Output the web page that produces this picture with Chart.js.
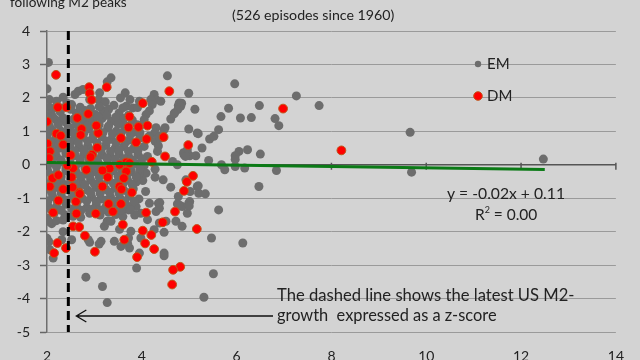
<!DOCTYPE html>
<html>
<head>
<meta charset="utf-8">
<script src="https://cdn.jsdelivr.net/npm/chart.js@4"></script>
<style>
  html, body { margin: 0; padding: 0; background: #d3d3d3; }
  #wrap { width: 640px; height: 360px; }
</style>
</head>
<body>
<div id="wrap"><canvas id="chart" width="640" height="360"></canvas></div>
<script>
/* ── Data (z-scores) ────────────────────────────────────── */
const xTicks = [2, 4, 6, 8, 10, 12, 14];
const yTicks = [-5, -4, -3, -2, -1, 0, 1, 2, 3, 4];

// EM episodes: [M2 z-score at peak, subsequent outcome]
const emPoints = [
  [2.03,3.06],[2.00,2.27],[3.27,2.48],[3.35,2.60],[4.54,2.66],[4.99,2.14],[5.96,2.42],[7.26,2.06],
  [6.48,1.77],[7.74,1.77],[6.08,1.40],[6.31,1.41],[6.81,1.38],[6.89,1.17],[9.66,0.97],[6.23,0.45],
  [6.05,0.40],[6.50,0.32],[12.47,0.17],[6.17,-0.10],[6.84,-0.17],[9.69,-0.22],[6.47,-0.65],[6.13,-2.34],
  [5.83,1.69],[5.67,1.44],[5.62,1.05],[5.43,0.77],[5.52,0.85],[5.97,0.27],[5.41,0.13],[5.68,0.00],
  [5.75,-0.15],[5.62,-1.35],[5.47,-2.19],[5.51,-3.26],[5.31,-3.96],[5.97,-0.05],[5.97,0.16],
  [4.84,1.84],[4.77,1.77],[4.69,1.55],[4.61,1.37],[4.47,1.05],[4.40,0.80],[4.28,0.70],[4.99,1.07],
  [5.17,0.95],[5.27,0.50],[4.89,0.30],[5.01,0.27],[5.14,0.27],[4.96,0.45],[4.65,0.10],[4.75,0.00],
  [4.28,-0.13],[4.45,-0.45],[4.61,-0.67],[5.17,-0.65],[5.20,-0.85],[5.34,-0.87],[5.02,-0.80],[4.93,-0.45],
  [4.77,-0.95],[4.99,-1.15],[4.85,-1.25],[4.75,-1.17],[4.96,-1.45],[4.51,-1.69],[4.72,-1.69],[4.85,-1.84],
  [4.47,-2.02],[4.37,-1.74],[4.35,-1.15],[4.30,-1.40],[4.16,-1.15],[3.98,-1.45],[3.98,-2.19],[3.95,-2.64],
  [3.89,-3.09],[3.74,-2.49],[3.56,-2.44],[3.42,-2.29],[3.70,-2.35],[4.47,-2.64],[2.82,-3.36],[3.17,-3.64],
  [3.27,-4.12],[2.90,-2.32],[3.10,-2.37],[2.13,-2.79],[2.06,-2.54],[2.04,-2.30],[2.00,-2.20],[2.10,-1.76],
  [2.20,-1.67],[2.00,-1.60],[2.34,-1.65],[2.34,-2.00],[2.09,-1.35],
  [4.26,2.10],[4.30,1.95],[4.19,1.95],[4.22,1.80],[4.40,1.90],[4.79,1.85],[4.82,1.75],[4.76,1.65],
  [5.12,1.66],[4.68,1.52],[4.16,1.61],[4.09,1.50],[4.05,1.35],[4.49,1.11],[4.30,1.11],[4.27,0.95],
  [4.37,0.85],[5.19,0.93],[4.88,0.36],[4.97,0.32],[4.92,0.25],[4.35,0.56],[4.33,0.40],
  [5.19,-0.63],[4.28,-0.37],[4.09,-0.25],[4.02,-0.47],[5.01,-1.10],[5.00,-1.23],[4.79,-1.20],[4.38,-1.13],
  [4.37,-1.30],[4.12,-1.64],[4.26,-1.94],[4.47,-2.72],
  [2.03,-1.69],[2.03,-1.25],[2.31,-2.24],[2.52,-2.24],[2.87,-2.24],[3.14,-2.29],[3.72,-2.19],[2.55,-1.54],
  [2.71,-1.57],[3.21,-1.84],[3.27,-1.69],[3.35,-1.69],[3.45,-1.49],[3.61,-1.35],[3.72,-1.35],[3.78,-1.25],
  [3.77,-1.99],[3.53,-1.93],
  [2.66,2.20],[2.76,2.25],[2.59,2.10],[2.52,1.80],[2.34,2.02],[2.17,1.70],[2.05,1.72],[3.11,2.15],
  [3.09,1.95],[3.23,1.88],[3.41,1.78],[3.65,2.15],[3.67,1.75],[3.81,1.70],[3.91,1.71],
  [2.05,1.95],[2.20,1.90],[2.42,1.85],[2.90,1.95],[3.55,2.00],[3.75,1.95],[3.95,1.90],
  [2.08,1.52],[2.28,1.58],[2.62,1.55],[2.80,1.62],[3.02,1.50],[3.18,1.62],[3.52,1.55],[3.72,1.48],
  [2.00,1.30],[2.18,1.35],[2.40,1.28],[2.56,1.36],[2.78,1.30],[2.98,1.25],[3.16,1.38],[3.36,1.30],
  [3.55,1.26],[3.80,1.33],[4.00,1.20],
  [2.10,1.05],[2.30,1.00],[2.48,1.10],[2.66,1.02],[2.88,1.08],[3.08,1.02],[3.28,1.10],[3.46,1.00],
  [3.64,1.06],[3.84,0.98],
  [2.00,0.82],[2.18,0.78],[2.38,0.85],[2.58,0.75],[2.76,0.82],[2.96,0.78],[3.16,0.84],[3.36,0.76],
  [3.56,0.82],[3.74,0.74],[3.96,0.80],[4.15,0.85],
  [2.10,0.55],[2.28,0.50],[2.48,0.58],[2.68,0.52],[2.86,0.56],[3.04,0.50],[3.24,0.58],[3.44,0.50],
  [3.62,0.55],[3.82,0.48],[4.05,0.55],
  [2.02,0.30],[2.20,0.25],[2.40,0.34],[2.60,0.28],[2.78,0.32],[2.98,0.25],[3.16,0.30],[3.34,0.24],
  [3.52,0.32],[3.72,0.26],[3.92,0.30],[4.12,0.25],
  [2.10,0.05],[2.30,0.08],[2.50,0.02],[2.70,0.06],[2.90,0.00],[3.08,0.06],[3.28,0.02],[3.46,0.08],
  [3.66,0.00],[3.86,0.04],[4.05,-0.02],
  [2.02,-0.20],[2.20,-0.25],[2.40,-0.18],[2.62,-0.22],[2.80,-0.28],[3.00,-0.20],[3.20,-0.26],[3.40,-0.18],
  [3.58,-0.24],[3.78,-0.20],[3.95,-0.28],
  [2.10,-0.45],[2.30,-0.50],[2.50,-0.42],[2.72,-0.48],[2.92,-0.45],[3.10,-0.52],[3.30,-0.44],[3.50,-0.50],
  [3.70,-0.46],[3.88,-0.52],
  [2.02,-0.72],[2.22,-0.68],[2.44,-0.75],[2.66,-0.70],[2.86,-0.76],[3.04,-0.68],[3.24,-0.74],[3.44,-0.70],
  [3.62,-0.76],[3.82,-0.72],[4.08,-0.80],
  [2.12,-0.95],[2.32,-1.00],[2.54,-0.94],[2.74,-1.00],[2.94,-0.96],[3.14,-1.02],[3.34,-0.96],[3.54,-1.00],
  [3.74,-0.94],[3.94,-1.02],
  [2.00,-1.20],[2.20,-1.25],[2.40,-1.18],[2.62,-1.22],[2.84,-1.28],[3.04,-1.20],[3.24,-1.26],[3.44,-1.22],
  [3.66,-1.18],[3.88,-1.25],
  [2.15,-1.45],[2.38,-1.50],[2.90,-1.45],[3.12,-1.50],[3.30,-1.42],[3.60,-1.55],[3.85,-1.50],
  // second, staggered layer of the dense cluster
  [2.30,1.70],[2.50,1.66],[2.70,1.72],[2.92,1.68],[3.10,1.74],[3.30,1.66],[3.60,1.70],
  [2.12,1.44],[2.34,1.40],[2.72,1.46],[2.90,1.40],[3.08,1.44],[3.26,1.48],[3.45,1.42],[3.62,1.38],
  [2.05,1.16],[2.24,1.20],[2.45,1.14],[2.62,1.20],[2.84,1.16],[3.10,1.20],[3.30,1.16],[3.50,1.22],
  [3.70,1.16],[3.90,1.20],
  [2.02,0.94],[2.20,0.90],[2.40,0.96],[2.57,0.92],[2.78,0.95],[2.98,0.90],[3.18,0.96],[3.38,0.92],
  [3.56,0.94],[3.76,0.90],[3.96,0.96],
  [2.08,0.68],[2.26,0.64],[2.46,0.70],[2.66,0.66],[2.86,0.70],[3.06,0.64],[3.26,0.70],[3.46,0.66],
  [3.66,0.68],[3.86,0.64],
  [2.00,0.44],[2.18,0.40],[2.38,0.46],[2.58,0.42],[2.78,0.44],[2.96,0.40],[3.14,0.44],[3.34,0.40],
  [3.52,0.44],[3.72,0.40],[3.92,0.44],
  [2.10,0.18],[2.30,0.14],[2.50,0.20],[2.70,0.16],[2.88,0.18],[3.06,0.14],[3.26,0.20],[3.44,0.16],
  [3.62,0.18],[3.80,0.14],[4.00,0.18],
  [2.00,-0.08],[2.20,-0.06],[2.40,-0.10],[2.60,-0.06],[2.80,-0.10],[3.00,-0.08],[3.18,-0.12],[3.38,-0.06],
  [3.56,-0.10],[3.76,-0.08],[3.96,-0.12],
  [2.10,-0.33],[2.30,-0.36],[2.50,-0.30],[2.70,-0.34],[2.90,-0.32],[3.10,-0.36],[3.30,-0.30],[3.50,-0.34],
  [3.68,-0.32],[3.88,-0.36],
  [2.00,-0.58],[2.20,-0.56],[2.40,-0.60],[2.60,-0.56],[2.80,-0.60],[3.00,-0.58],[3.20,-0.60],[3.40,-0.56],
  [3.60,-0.58],[3.80,-0.60],
  [2.10,-0.83],[2.30,-0.86],[2.52,-0.82],[2.70,-0.86],[2.92,-0.84],[3.12,-0.86],[3.32,-0.82],[3.52,-0.86],
  [3.72,-0.84],
  [2.02,-1.08],[2.22,-1.10],[2.42,-1.06],[2.64,-1.10],[2.84,-1.08],[3.04,-1.10],[3.24,-1.06],[3.44,-1.10],
  [3.64,-1.08],[3.84,-1.10],
  [2.10,-1.33],[2.30,-1.36],[2.52,-1.32],[2.72,-1.36],[2.96,-1.33],[3.16,-1.36],[3.36,-1.32],[3.56,-1.36],
  [3.76,-1.34]
];

// DM episodes
const dmPoints = [
  [4.58,2.20],[4.46,0.83],[4.49,0.25],[4.44,-1.72],[4.20,-2.10],[4.26,-2.52],[4.02,-1.97],[4.07,-2.35],
  [3.90,-2.76],[4.09,-1.43],[4.02,1.84],[4.12,1.17],[4.10,0.77],[4.21,0.09],[3.93,1.13],[3.88,0.67],
  [3.74,1.44],[3.72,1.12],[3.79,-0.83],[3.60,-1.79],[3.63,-2.24],[3.67,0.07],[3.67,-0.20],[3.56,0.80],
  [3.62,-0.40],[3.53,-0.65],[3.57,-0.73],[3.56,-1.17],[3.30,-1.17],[3.39,-1.40],[3.26,2.32],[3.32,-0.11],
  [3.28,-0.37],[3.17,-0.17],[3.17,-0.65],[3.03,-1.46],[3.01,-2.60],[3.08,0.95],[3.04,1.17],[3.06,0.51],
  [2.95,0.30],[2.92,0.23],[2.83,-0.15],[2.89,2.32],[2.90,2.14],[2.94,1.94],[2.87,1.52],[2.64,1.40],
  [2.73,1.07],[2.71,0.89],[2.68,-0.83],[2.62,-1.46],[2.55,-1.84],[2.68,-1.86],[2.80,-2.12],[2.54,-0.67],
  [2.52,-0.37],[2.61,-1.10],[2.69,-0.87],[2.34,-0.73],[2.24,-1.07],[2.13,-1.43],[2.06,-0.65],[2.12,-0.40],
  [2.24,-0.31],[2.41,1.72],[2.23,1.72],[2.19,2.69],[2.00,1.29],[2.01,0.63],[2.06,0.40],[2.04,0.20],
  [2.20,0.93],[2.29,0.87],[2.34,0.60],[2.50,0.29],[2.22,-2.34],[2.15,-2.64],[2.40,-2.49],[2.55,-0.10],
  [2.43,-0.02],[3.53,0.00],[3.74,0.05],
  [5.16,-1.92],[5.08,-0.33],[4.95,-0.51],[4.89,-0.78],[4.98,0.59],[4.70,-1.40],[4.81,-3.05],[4.66,-3.14],
  [4.64,-3.58],[6.98,1.68],[8.21,0.43]
];

// linear trend y = -0.02x + 0.11, end points as drawn
const trendX = [2, 12.5];
const trendY = [0.07, -0.14];

// latest US M2 growth z-score (dashed marker)
const latestUS = 2.45;

const FONT = 'Lato, "Open Sans", sans-serif';
const toXY = arr => arr.map(p => ({ x: p[0], y: p[1] }));

// draw text so that it spans roughly the width it has in the picture
function fitText(ctx, text, x, y, width, base) {
  ctx.font = base + 'px ' + FONT;
  const size = base * width / ctx.measureText(text).width;
  ctx.font = size.toFixed(1) + 'px ' + FONT;
  ctx.fillText(text, x, y);
}

/* ── Overlay: background, axis at zero, notes, legend ───── */
const overlay = {
  id: 'overlay',
  beforeDraw(chart) {
    const ctx = chart.ctx;
    ctx.save();
    ctx.fillStyle = '#d3d3d3';
    ctx.fillRect(0, 0, chart.width, chart.height);
    ctx.restore();
  },
  beforeDatasetsDraw(chart) {
    const { ctx, scales: { x, y } } = chart;
    const y0 = y.getPixelForValue(0);
    ctx.save();
    ctx.strokeStyle = '#555';
    ctx.lineWidth = 1.5;
    ctx.beginPath();
    ctx.moveTo(x.left, y0);
    ctx.lineTo(x.right, y0);
    xTicks.forEach(t => {
      const px = x.getPixelForValue(t);
      ctx.moveTo(px, y0 - 2);
      ctx.lineTo(px, y0 + 5);
    });
    ctx.stroke();
    ctx.restore();
  },
  afterDraw(chart) {
    const { ctx, scales: { x } } = chart;
    ctx.save();
    ctx.fillStyle = '#222';
    ctx.textBaseline = 'middle';
    ctx.textAlign = 'left';
    fitText(ctx, 'following M2 peaks', 10, 3, 117, 15);
    fitText(ctx, '(526 episodes since 1960)', 232, 15, 163, 15);

    // legend
    ctx.fillStyle = '#6d6d6d';
    ctx.beginPath(); ctx.arc(478, 64, 3.2, 0, Math.PI * 2); ctx.fill();
    ctx.fillStyle = '#ff0000';
    ctx.strokeStyle = '#c0561a';
    ctx.lineWidth = 1;
    ctx.beginPath(); ctx.arc(478, 96, 4.3, 0, Math.PI * 2); ctx.fill(); ctx.stroke();
    ctx.fillStyle = '#222';
    ctx.font = '15px ' + FONT;
    ctx.fillText('EM', 487, 64);
    ctx.fillText('DM', 487, 96);

    // regression note
    fitText(ctx, 'y = -0.02x + 0.11', 447, 194, 118, 15);
    ctx.font = '15.5px ' + FONT;
    ctx.fillText('R', 475, 215);
    const rw = ctx.measureText('R').width;
    ctx.font = '9px ' + FONT;
    ctx.fillText('2', 475 + rw, 210);
    ctx.font = '15.5px ' + FONT;
    ctx.fillText(' = 0.00', 475 + rw + 5, 215);

    // dashed line note with arrow
    fitText(ctx, 'The dashed line shows the latest US M2-', 277, 296, 297, 15);
    fitText(ctx, 'growth  expressed as a z-score', 277, 316, 220, 15);
    const ya = 316;
    const xa = x.getPixelForValue(latestUS) + 8;
    ctx.strokeStyle = '#111';
    ctx.lineWidth = 1.3;
    ctx.beginPath();
    ctx.moveTo(273, ya);
    ctx.lineTo(xa, ya);
    ctx.moveTo(xa + 10, ya - 6);
    ctx.lineTo(xa, ya);
    ctx.lineTo(xa + 10, ya + 6);
    ctx.stroke();
    ctx.restore();
  }
};

/* ── Chart ──────────────────────────────────────────────── */
new Chart(document.getElementById('chart'), {
  type: 'scatter',
  data: {
    datasets: [
      {
        label: 'latest US',
        data: [{ x: latestUS, y: 4 }, { x: latestUS, y: -5 }],
        showLine: true,
        borderColor: '#000',
        borderWidth: 3,
        borderDash: [9, 5],
        pointRadius: 0,
        order: -1
      },
      {
        label: 'trend',
        data: trendX.map((v, i) => ({ x: v, y: trendY[i] })),
        showLine: true,
        borderColor: '#0b7a16',
        borderWidth: 3,
        pointRadius: 0,
        order: 0
      },
      {
        label: 'DM',
        data: toXY(dmPoints),
        backgroundColor: '#ff0000',
        borderColor: '#c0561a',
        borderWidth: 1,
        pointRadius: 4.4,
        order: 1
      },
      {
        label: 'EM',
        data: toXY(emPoints),
        backgroundColor: '#6d6d6d',
        borderColor: '#6d6d6d',
        borderWidth: 0,
        pointRadius: 4.5,
        order: 2
      }
    ]
  },
  options: {
    responsive: false,
    animation: false,
    devicePixelRatio: 1,
    layout: { padding: { top: 31, right: 20, left: 0, bottom: 0 } },
    plugins: { legend: { display: false }, tooltip: { enabled: false } },
    scales: {
      x: {
        type: 'linear',
        min: 2, max: 14,
        afterBuildTicks: s => { s.ticks = xTicks.map(v => ({ value: v })); },
        afterFit: s => { s.height = 28; },
        grid: { display: false, drawTicks: false },
        border: { display: false },
        ticks: { color: '#222', padding: 16, font: { family: FONT, size: 14 } }
      },
      y: {
        min: -5, max: 4,
        afterBuildTicks: s => { s.ticks = yTicks.map(v => ({ value: v })); },
        afterFit: s => { s.width = 47; },
        grid: {
          color: '#9a9a9a',
          borderDash: [4, 3],
          lineWidth: 1,
          tickLength: 7,
          tickColor: '#666',
          tickBorderDash: [],
          tickWidth: 1.5
        },
        border: { display: true, color: '#6e6e6e', width: 1.5 },
        ticks: { color: '#222', padding: 10, font: { family: FONT, size: 14 } }
      }
    }
  },
  plugins: [overlay]
});
</script>
</body>
</html>
